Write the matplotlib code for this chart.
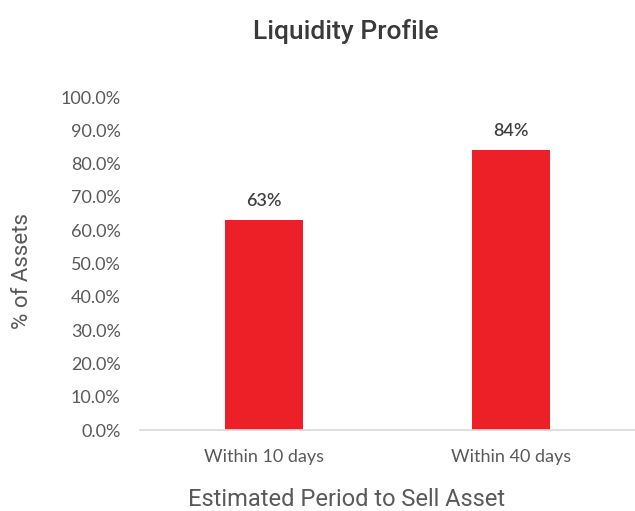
import matplotlib
matplotlib.use('Agg')
import matplotlib.pyplot as plt
from matplotlib.ticker import FuncFormatter

# Liquidity profile data
categories = ['Within 10 days', 'Within 40 days']
shares = [0.63, 0.84]
bar_labels = ['63%', '84%']

plt.rcParams['font.family'] = ['Lato', 'DejaVu Sans']

fig = plt.figure(figsize=(6.35, 5.11), dpi=100)
ax = fig.add_axes([0.2205, 0.1585, 0.7795, 0.6515])

x = range(len(categories))
bars = ax.bar(x, shares, width=0.315, color='#ED2028')
for b, lab in zip(bars, bar_labels):
  ax.text(b.get_x() + b.get_width() / 2, b.get_height() + 0.035, lab,
          ha='center', va='bottom', fontsize=13, fontweight='semibold', color='#404040')

ax.set_xlim(-0.5, 1.5)
ax.set_ylim(0, 1.0)
ax.set_yticks([i / 10 for i in range(11)])
ax.yaxis.set_major_formatter(FuncFormatter(lambda v, p: '%.1f%%' % (v * 100)))
ax.set_xticks(list(x))
ax.set_xticklabels(categories)
ax.tick_params(axis='both', length=0, labelsize=13, labelcolor='#595959')
ax.tick_params(axis='y', pad=14)
ax.tick_params(axis='x', pad=14)

for s in ['top', 'right', 'left']:
  ax.spines[s].set_visible(False)
ax.spines['bottom'].set_color('#D9D9D9')
ax.spines['bottom'].set_linewidth(1.2)

fig.text(0.545, 0.938, 'Liquidity Profile', ha='center', va='center',
         fontsize=19, fontweight='medium', color='#3a3a3a', family='Roboto')
fig.text(0.035, 0.47, '% of Assets', rotation=90, ha='center', va='center',
         fontsize=16, color='#595959', family='Roboto')
fig.text(0.545, 0.023, 'Estimated Period to Sell Asset', ha='center', va='center',
         fontsize=17, color='#595959', family='Roboto')

plt.savefig('out.png', dpi=100)
